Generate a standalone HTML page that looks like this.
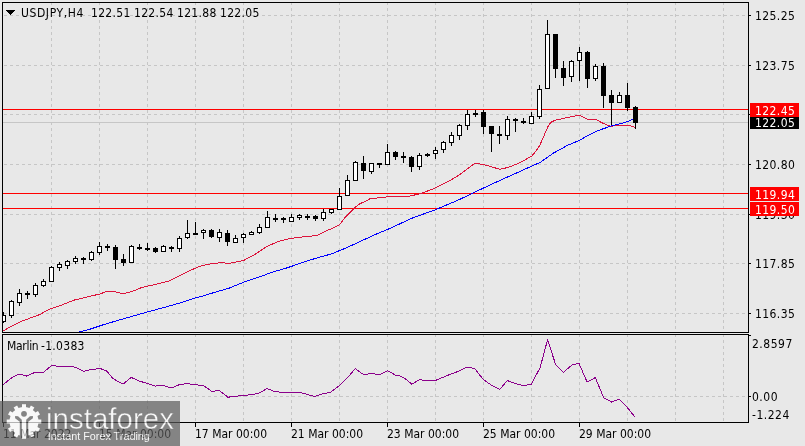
<!DOCTYPE html>
<html><head><meta charset="utf-8"><style>
html,body{margin:0;padding:0;}
body{width:805px;height:446px;background:#e8e8e8;position:relative;overflow:hidden;font-family:"DejaVu Sans Condensed","Liberation Sans",sans-serif;font-size:12px;color:#000;}
svg{position:absolute;left:0;top:0;}
.t{position:absolute;white-space:pre;line-height:16px;}
.bx{position:absolute;left:750px;width:49px;height:14px;}
</style></head><body>
<svg width="805" height="446" viewBox="0 0 805 446" shape-rendering="crispEdges">
<defs><clipPath id="cm"><rect x="3" y="3" width="745" height="329"/></clipPath><clipPath id="ci"><rect x="3" y="335" width="745" height="87"/></clipPath></defs>
<path d="M51.5 2V332 M51.5 334V422 M99.5 2V332 M99.5 334V422 M147.5 2V332 M147.5 334V422 M195.5 2V332 M195.5 334V422 M243.5 2V332 M243.5 334V422 M291.5 2V332 M291.5 334V422 M339.5 2V332 M339.5 334V422 M387.5 2V332 M387.5 334V422 M435.5 2V332 M435.5 334V422 M483.5 2V332 M483.5 334V422 M531.5 2V332 M531.5 334V422 M579.5 2V332 M579.5 334V422 M627.5 2V332 M627.5 334V422 M675.5 2V332 M675.5 334V422 M723.5 2V332 M723.5 334V422 M4 15.5H748 M4 65.5H748 M4 114.5H748 M4 164.5H748 M4 214.5H748 M4 263.5H748 M4 313.5H748 M4 396.5H748" stroke="#c6c6c6" stroke-width="1" stroke-dasharray="3 3" fill="none"/>
<path d="M3 109.5H748M3 193.5H748M3 208.5H748" stroke="#ff0000" stroke-width="1" fill="none"/>
<path d="M3 122.5H748" stroke="#c6c6c6" stroke-width="1" fill="none"/>
<g clip-path="url(#cm)">
<polyline points="2.5,331.4 10.0,326.9 19.9,321.9 29.8,318.2 39.8,314.5 49.7,309.0 59.6,305.8 74.5,300.0 87.0,297.0 99.4,294.1 108.0,291.1 114.3,291.6 123.0,293.6 131.7,291.6 141.6,287.6 154.0,284.7 169.0,280.9 178.9,276.0 188.8,271.0 200.0,266.2 208.7,264.2 220.4,262.7 229.2,263.3 243.7,260.4 253.9,255.1 267.0,246.4 278.7,241.4 290.4,238.5 302.0,237.0 316.6,235.6 325.4,231.2 332.0,228.5 339.5,224.8 345.3,217.2 350.4,212.2 355.4,207.1 360.5,203.4 365.5,201.3 370.5,198.4 375.6,198.2 385.0,197.2 390.0,196.0 410.2,196.0 421.4,193.4 434.8,188.2 448.3,181.5 459.5,174.8 468.5,168.0 475.2,163.1 484.2,164.7 499.9,169.3 508.1,167.4 516.1,164.3 524.2,160.3 531.6,156.2 535.6,151.5 539.7,145.5 543.0,138.1 546.4,130.0 548.5,125.5 551.1,122.2 555.3,120.2 564.2,118.2 571.0,116.8 579.2,115.2 587.4,119.3 595.6,119.3 602.4,123.0 610.6,126.4 617.5,125.0 628.4,125.0 635.2,127.5" stroke="#dc143c" stroke-width="1" fill="none" stroke-linejoin="round"/>
<polyline points="79.0,331.9 89.4,329.4 104.3,324.4 119.3,320.0 134.2,315.7 149.0,311.5 164.0,307.5 178.9,303.3 191.3,299.1 200.0,296.8 214.6,292.4 229.2,288.1 243.7,282.2 258.3,277.3 272.9,272.0 287.5,267.7 302.0,262.7 316.6,258.0 331.2,254.0 345.8,248.1 360.3,241.4 374.9,234.7 389.5,228.6 412.4,218.0 434.8,210.0 457.3,200.5 479.7,189.8 500.0,180.4 513.4,174.4 526.9,168.3 540.3,162.3 553.8,152.9 567.2,145.5 580.0,140.1 584.7,137.3 598.3,130.5 612.0,125.7 625.7,122.3 634.5,118.5" stroke="#0000ff" stroke-width="1" fill="none" stroke-linejoin="round"/>
</g>
<g clip-path="url(#cm)">
<path d="M3.5 312V323 M11.5 300V318 M19.5 289V306 M27.5 291V299 M35.5 283V297 M43.5 279V287 M51.5 266V282 M59.5 262V271 M67.5 260V269 M75.5 256V264 M83.5 257V264 M91.5 251V261 M99.5 242V255 M107.5 244V251 M115.5 245V269 M123.5 254V266 M131.5 245V263 M139.5 244V250 M147.5 243V251 M155.5 247V253 M163.5 245V252 M171.5 246V252 M179.5 236V252 M187.5 220V239 M195.5 222V235 M203.5 229V239 M211.5 229V238 M219.5 229V242 M227.5 230V246 M235.5 235V243 M243.5 233V243 M251.5 231V235 M259.5 224V234 M267.5 211V228 M275.5 214V222 M283.5 217V223 M291.5 214V222 M299.5 214V220 M307.5 214V220 M315.5 215V221 M323.5 209V221 M331.5 209V214 M339.5 188V210 M347.5 175V196 M355.5 161V181 M363.5 156V179 M371.5 163V174 M379.5 163V168 M387.5 144V165 M395.5 151V160 M403.5 152V163 M411.5 156V172 M419.5 153V170 M427.5 153V157 M435.5 147V159 M443.5 141V153 M451.5 132V146 M459.5 124V140 M467.5 110V130 M475.5 110V117 M483.5 110V134 M491.5 126V152 M499.5 126V144 M507.5 116V140 M515.5 118V132 M523.5 118V124 M531.5 112V124 M539.5 85V119 M547.5 20V89 M555.5 34V78 M563.5 61V86 M571.5 60V82 M579.5 47V81 M587.5 51V88 M595.5 64V81 M603.5 63V108 M611.5 90V125 M619.5 92V103 M627.5 83V111 M635.5 106V129" stroke="#000" stroke-width="1" fill="none"/>
<rect x="1" y="315" width="5" height="7" fill="#000"/><rect x="2" y="316" width="3" height="5" fill="#fff"/><rect x="9" y="301" width="5" height="15" fill="#000"/><rect x="10" y="302" width="3" height="13" fill="#fff"/><rect x="17" y="293" width="5" height="10" fill="#000"/><rect x="18" y="294" width="3" height="8" fill="#fff"/><rect x="25" y="293" width="5" height="2" fill="#000"/><rect x="33" y="285" width="5" height="10" fill="#000"/><rect x="34" y="286" width="3" height="8" fill="#fff"/><rect x="41" y="281" width="5" height="5" fill="#000"/><rect x="42" y="282" width="3" height="3" fill="#fff"/><rect x="49" y="267" width="5" height="15" fill="#000"/><rect x="50" y="268" width="3" height="13" fill="#fff"/><rect x="57" y="264" width="5" height="4" fill="#000"/><rect x="58" y="265" width="3" height="2" fill="#fff"/><rect x="65" y="261" width="5" height="5" fill="#000"/><rect x="66" y="262" width="3" height="3" fill="#fff"/><rect x="73" y="258" width="5" height="4" fill="#000"/><rect x="74" y="259" width="3" height="2" fill="#fff"/><rect x="81" y="258" width="5" height="2" fill="#000"/><rect x="89" y="252" width="5" height="8" fill="#000"/><rect x="90" y="253" width="3" height="6" fill="#fff"/><rect x="97" y="246" width="5" height="7" fill="#000"/><rect x="98" y="247" width="3" height="5" fill="#fff"/><rect x="105" y="246" width="5" height="2" fill="#000"/><rect x="113" y="247" width="5" height="13" fill="#000"/><rect x="121" y="259" width="5" height="4" fill="#000"/><rect x="129" y="246" width="5" height="17" fill="#000"/><rect x="130" y="247" width="3" height="15" fill="#fff"/><rect x="137" y="247" width="5" height="2" fill="#000"/><rect x="145" y="248" width="5" height="2" fill="#000"/><rect x="153" y="248" width="5" height="4" fill="#000"/><rect x="161" y="246" width="5" height="6" fill="#000"/><rect x="162" y="247" width="3" height="4" fill="#fff"/><rect x="169" y="247" width="5" height="2" fill="#000"/><rect x="177" y="238" width="5" height="11" fill="#000"/><rect x="178" y="239" width="3" height="9" fill="#fff"/><rect x="185" y="233" width="5" height="5" fill="#000"/><rect x="186" y="234" width="3" height="3" fill="#fff"/><rect x="193" y="233" width="5" height="2" fill="#000"/><rect x="201" y="230" width="5" height="3" fill="#000"/><rect x="202" y="231" width="3" height="1" fill="#fff"/><rect x="209" y="230" width="5" height="7" fill="#000"/><rect x="217" y="232" width="5" height="6" fill="#000"/><rect x="218" y="233" width="3" height="4" fill="#fff"/><rect x="225" y="233" width="5" height="9" fill="#000"/><rect x="233" y="238" width="5" height="5" fill="#000"/><rect x="234" y="239" width="3" height="3" fill="#fff"/><rect x="241" y="234" width="5" height="4" fill="#000"/><rect x="242" y="235" width="3" height="2" fill="#fff"/><rect x="249" y="232" width="5" height="3" fill="#000"/><rect x="250" y="233" width="3" height="1" fill="#fff"/><rect x="257" y="227" width="5" height="6" fill="#000"/><rect x="258" y="228" width="3" height="4" fill="#fff"/><rect x="265" y="217" width="5" height="11" fill="#000"/><rect x="266" y="218" width="3" height="9" fill="#fff"/><rect x="273" y="218" width="5" height="2" fill="#000"/><rect x="281" y="218" width="5" height="2" fill="#000"/><rect x="289" y="217" width="5" height="5" fill="#000"/><rect x="290" y="218" width="3" height="3" fill="#fff"/><rect x="297" y="215" width="5" height="3" fill="#000"/><rect x="298" y="216" width="3" height="1" fill="#fff"/><rect x="305" y="216" width="5" height="2" fill="#000"/><rect x="313" y="216" width="5" height="3" fill="#000"/><rect x="321" y="212" width="5" height="7" fill="#000"/><rect x="322" y="213" width="3" height="5" fill="#fff"/><rect x="329" y="209" width="5" height="4" fill="#000"/><rect x="330" y="210" width="3" height="2" fill="#fff"/><rect x="337" y="196" width="5" height="14" fill="#000"/><rect x="338" y="197" width="3" height="12" fill="#fff"/><rect x="345" y="180" width="5" height="16" fill="#000"/><rect x="346" y="181" width="3" height="14" fill="#fff"/><rect x="353" y="162" width="5" height="19" fill="#000"/><rect x="354" y="163" width="3" height="17" fill="#fff"/><rect x="361" y="163" width="5" height="8" fill="#000"/><rect x="369" y="163" width="5" height="9" fill="#000"/><rect x="370" y="164" width="3" height="7" fill="#fff"/><rect x="377" y="163" width="5" height="2" fill="#000"/><rect x="385" y="152" width="5" height="13" fill="#000"/><rect x="386" y="153" width="3" height="11" fill="#fff"/><rect x="393" y="152" width="5" height="5" fill="#000"/><rect x="401" y="156" width="5" height="2" fill="#000"/><rect x="409" y="157" width="5" height="10" fill="#000"/><rect x="417" y="155" width="5" height="12" fill="#000"/><rect x="418" y="156" width="3" height="10" fill="#fff"/><rect x="425" y="154" width="5" height="2" fill="#000"/><rect x="433" y="150" width="5" height="4" fill="#000"/><rect x="434" y="151" width="3" height="2" fill="#fff"/><rect x="441" y="142" width="5" height="8" fill="#000"/><rect x="442" y="143" width="3" height="6" fill="#fff"/><rect x="449" y="135" width="5" height="8" fill="#000"/><rect x="450" y="136" width="3" height="6" fill="#fff"/><rect x="457" y="125" width="5" height="11" fill="#000"/><rect x="458" y="126" width="3" height="9" fill="#fff"/><rect x="465" y="114" width="5" height="12" fill="#000"/><rect x="466" y="115" width="3" height="10" fill="#fff"/><rect x="473" y="113" width="5" height="2" fill="#000"/><rect x="481" y="112" width="5" height="15" fill="#000"/><rect x="489" y="126" width="5" height="8" fill="#000"/><rect x="497" y="134" width="5" height="2" fill="#000"/><rect x="505" y="119" width="5" height="17" fill="#000"/><rect x="506" y="120" width="3" height="15" fill="#fff"/><rect x="513" y="119" width="5" height="2" fill="#000"/><rect x="521" y="121" width="5" height="2" fill="#000"/><rect x="529" y="116" width="5" height="8" fill="#000"/><rect x="530" y="117" width="3" height="6" fill="#fff"/><rect x="537" y="89" width="5" height="28" fill="#000"/><rect x="538" y="90" width="3" height="26" fill="#fff"/><rect x="545" y="34" width="5" height="55" fill="#000"/><rect x="546" y="35" width="3" height="53" fill="#fff"/><rect x="553" y="34" width="5" height="35" fill="#000"/><rect x="561" y="68" width="5" height="10" fill="#000"/><rect x="569" y="61" width="5" height="16" fill="#000"/><rect x="570" y="62" width="3" height="14" fill="#fff"/><rect x="577" y="52" width="5" height="9" fill="#000"/><rect x="578" y="53" width="3" height="7" fill="#fff"/><rect x="585" y="52" width="5" height="27" fill="#000"/><rect x="593" y="66" width="5" height="13" fill="#000"/><rect x="594" y="67" width="3" height="11" fill="#fff"/><rect x="601" y="66" width="5" height="30" fill="#000"/><rect x="609" y="95" width="5" height="8" fill="#000"/><rect x="617" y="95" width="5" height="8" fill="#000"/><rect x="618" y="96" width="3" height="6" fill="#fff"/><rect x="625" y="95" width="5" height="13" fill="#000"/><rect x="633" y="107" width="5" height="16" fill="#000"/>
</g>
<g clip-path="url(#ci)">
<polyline points="2.5,385.3 7.5,381.1 12.4,377.4 18.6,374.4 22.4,374.9 26.8,376.1 34.8,372.4 43.5,372.4 51.7,365.4 57.1,366.2 70.8,366.4 75.8,367.4 84.0,371.4 89.4,369.9 94.4,369.4 99.4,368.2 106.8,371.1 113.0,378.6 123.0,384.1 131.2,377.4 139.1,381.1 146.6,383.1 155.3,386.1 162.7,385.3 171.4,388.0 178.9,384.8 186.3,383.6 192.5,384.3 200.0,385.3 203.7,385.6 211.2,391.0 214.9,391.0 218.6,390.3 222.4,392.8 227.8,397.2 232.3,396.7 238.5,396.0 243.5,395.2 252.2,394.8 259.6,392.8 267.1,388.5 274.5,391.5 282.0,392.3 299.4,392.3 306.8,394.3 314.8,396.5 321.7,394.0 330.4,392.3 337.9,386.8 346.6,378.6 355.3,368.7 364.0,374.9 371.4,373.1 378.9,374.9 387.6,370.7 395.0,374.9 400.0,376.1 404.5,378.2 411.9,384.2 419.4,379.7 425.3,380.3 435.8,380.3 447.7,375.3 458.1,371.4 467.1,367.2 474.5,368.4 483.5,379.7 490.9,384.8 499.9,389.3 507.3,380.6 514.8,383.3 523.7,385.7 531.2,384.2 540.1,367.8 547.6,339.5 555.6,364.5 563.4,372.3 572.3,364.8 578.9,363.3 587.2,382.1 595.3,377.6 603.6,397.6 611.7,402.1 619.1,399.1 626.6,406.6 634.9,417.0" stroke="#8b008b" stroke-width="1" fill="none" stroke-linejoin="round"/>
</g>
<rect x="2.5" y="2.5" width="746" height="330" fill="none" stroke="#000"/>
<rect x="2.5" y="334.5" width="746" height="88" fill="none" stroke="#000"/>
<path d="M749 15.5H751 M749 65.5H751 M749 114.5H751 M749 164.5H751 M749 214.5H751 M749 263.5H751 M749 313.5H751 M749 335.5H751M749 396.5H751 M3.5 423V427 M99.5 423V427 M195.5 423V427 M291.5 423V427 M387.5 423V427 M483.5 423V427 M579.5 423V427" stroke="#000" stroke-width="1" fill="none"/>
<path d="M5.2 10H15.2L10.2 15Z" fill="#000"/>
</svg>
<div class="t" style="left:21px;top:5px;color:#000;letter-spacing:0.6px">USDJPY,H4</div><div class="t" style="left:91px;top:5px;color:#000;letter-spacing:0.3px">122.51</div><div class="t" style="left:134px;top:5px;color:#000;letter-spacing:0.3px">122.54</div><div class="t" style="left:177px;top:5px;color:#000;letter-spacing:0.3px">121.88</div><div class="t" style="left:220px;top:5px;color:#000;letter-spacing:0.3px">122.05</div><div class="t" style="left:7px;top:338px;color:#000;letter-spacing:-0.3px">Marlin</div><div class="t" style="left:41px;top:338px;color:#000;letter-spacing:0.3px">-1.0383</div><div class="t" style="left:755px;top:8px;color:#000;letter-spacing:0.4px">125.25</div><div class="t" style="left:755px;top:58px;color:#000;letter-spacing:0.4px">123.75</div><div class="t" style="left:755px;top:107px;color:#000;letter-spacing:0.4px">122.30</div><div class="t" style="left:755px;top:157px;color:#000;letter-spacing:0.4px">120.80</div><div class="t" style="left:755px;top:207px;color:#000;letter-spacing:0.4px">119.30</div><div class="t" style="left:755px;top:256px;color:#000;letter-spacing:0.4px">117.85</div><div class="t" style="left:755px;top:306px;color:#000;letter-spacing:0.4px">116.35</div><div class="t" style="left:752px;top:336px;color:#000;letter-spacing:0.5px">2.8597</div><div class="t" style="left:752px;top:389px;color:#000;letter-spacing:0.5px">0.00</div><div class="t" style="left:752px;top:407px;color:#000;letter-spacing:0.5px">-1.224</div><div class="t" style="left:3px;top:426px;color:#000;letter-spacing:0px">11 Mar 2022</div><div class="t" style="left:99px;top:426px;color:#000;letter-spacing:0px">15 Mar 00:00</div><div class="t" style="left:195px;top:426px;color:#000;letter-spacing:0px">17 Mar 00:00</div><div class="t" style="left:291px;top:426px;color:#000;letter-spacing:0px">21 Mar 00:00</div><div class="t" style="left:387px;top:426px;color:#000;letter-spacing:0px">23 Mar 00:00</div><div class="t" style="left:483px;top:426px;color:#000;letter-spacing:0px">25 Mar 00:00</div><div class="t" style="left:579px;top:426px;color:#000;letter-spacing:0px">29 Mar 00:00</div>
<div class="bx" style="top:115px;background:#000"></div><div class="bx" style="top:103px;background:#ff0000"></div><div class="bx" style="top:187px;background:#ff0000"></div><div class="bx" style="top:202px;background:#ff0000"></div>
<div class="t" style="left:755px;top:115px;color:#fff;letter-spacing:0.4px">122.05</div><div class="t" style="left:755px;top:103px;color:#fff;letter-spacing:0.4px">122.45</div><div class="t" style="left:755px;top:187px;color:#fff;letter-spacing:0.4px">119.94</div><div class="t" style="left:755px;top:202px;color:#fff;letter-spacing:0.4px">119.50</div>
<svg width="805" height="446" style="position:absolute;left:0;top:0">
<defs><mask id="gm" maskUnits="userSpaceOnUse" x="0" y="395" width="60" height="51">
<rect x="0" y="395" width="60" height="51" fill="#fff"/>
<circle cx="24" cy="413.8" r="2.9" fill="#000"/>
<path d="M15.1 415.9 L18.1 416.3 L21.8 419.8 L21.8 446 L19.8 446 L19.8 421.7 L15.1 418.3 Z" fill="#000"/>
<path d="M32.9 415.9 L29.9 416.3 L26.2 419.8 L26.2 446 L28.2 446 L28.2 421.7 L32.9 418.3 Z" fill="#000"/>
</mask></defs>
<g opacity="0.7">
<rect x="0" y="401" width="180" height="45" fill="#5a5a5a"/>
<g fill="#fff" mask="url(#gm)"><circle cx="24" cy="421.5" r="14.5"/><rect x="22" y="404.2" width="4" height="4" transform="rotate(0 24 421.5)"/><rect x="22" y="404.2" width="4" height="4" transform="rotate(30 24 421.5)"/><rect x="22" y="404.2" width="4" height="4" transform="rotate(60 24 421.5)"/><rect x="22" y="404.2" width="4" height="4" transform="rotate(90 24 421.5)"/><rect x="22" y="404.2" width="4" height="4" transform="rotate(120 24 421.5)"/><rect x="22" y="404.2" width="4" height="4" transform="rotate(150 24 421.5)"/><rect x="22" y="404.2" width="4" height="4" transform="rotate(180 24 421.5)"/><rect x="22" y="404.2" width="4" height="4" transform="rotate(210 24 421.5)"/><rect x="22" y="404.2" width="4" height="4" transform="rotate(240 24 421.5)"/><rect x="22" y="404.2" width="4" height="4" transform="rotate(270 24 421.5)"/><rect x="22" y="404.2" width="4" height="4" transform="rotate(300 24 421.5)"/><rect x="22" y="404.2" width="4" height="4" transform="rotate(330 24 421.5)"/></g>
<text x="46" y="428.7" fill="#fff" stroke="#5a5a5a" stroke-width="0.45" font-family="Liberation Sans, sans-serif" font-size="29.5">instaforex</text>
<text x="47.8" y="440.3" fill="#fff" font-family="Liberation Sans, sans-serif" font-size="10.8">Instant Forex Trading</text>
</g>
</svg>
</body></html>
